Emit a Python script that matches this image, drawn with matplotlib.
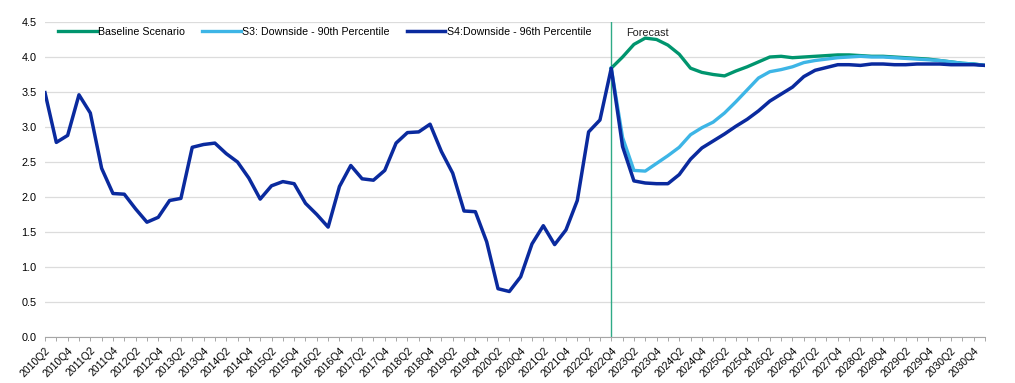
"""Scenario chart: history + forecast paths (matplotlib -> out.png)."""

import matplotlib
matplotlib.use("Agg")
import matplotlib.pyplot as plt
import pandas as pd

plt.rcParams["font.family"] = ["Liberation Sans", "DejaVu Sans"]

# quarters 2010Q2 .. 2031Q1
quarters = [f"{p.year}Q{p.quarter}" for p in pd.period_range("2010Q2", "2031Q1", freq="Q")]

# history 2010Q2 .. 2022Q4
history = [
    3.49, 2.78, 2.88, 3.46, 3.20, 2.41, 2.05, 2.04, 1.83, 1.64,
    1.71, 1.95, 1.98, 2.71, 2.75, 2.77, 2.62, 2.50, 2.27, 1.97,
    2.16, 2.22, 2.19, 1.91, 1.75, 1.57, 2.15, 2.45, 2.26, 2.24,
    2.38, 2.77, 2.92, 2.93, 3.04, 2.65, 2.34, 1.80, 1.79, 1.36,
    0.69, 0.65, 0.86, 1.33, 1.59, 1.32, 1.53, 1.95, 2.93, 3.10,
    3.84,
]

# forecasts 2022Q4 .. 2031Q1
baseline = [
    3.84, 4.00, 4.18, 4.27, 4.25, 4.17, 4.04, 3.84, 3.78, 3.75,
    3.73, 3.80, 3.86, 3.93, 4.00, 4.01, 3.99, 4.00, 4.01, 4.02,
    4.03, 4.03, 4.02, 4.01, 4.01, 4.00, 3.99, 3.98, 3.97, 3.95,
    3.93, 3.91, 3.90, 3.88,
]
s3_downside = [
    3.84, 2.85, 2.38, 2.37, 2.48, 2.59, 2.71, 2.89, 2.99, 3.07,
    3.20, 3.36, 3.53, 3.70, 3.79, 3.82, 3.86, 3.92, 3.95, 3.97,
    3.99, 4.00, 4.01, 4.00, 4.00, 3.99, 3.98, 3.97, 3.96, 3.95,
    3.93, 3.91, 3.90, 3.88,
]
s4_downside = [
    3.84, 2.72, 2.23, 2.20, 2.19, 2.19, 2.32, 2.54, 2.70, 2.80,
    2.90, 3.01, 3.11, 3.23, 3.37, 3.47, 3.57, 3.72, 3.81, 3.85,
    3.89, 3.89, 3.88, 3.90, 3.90, 3.89, 3.89, 3.90, 3.90, 3.90,
    3.89, 3.89, 3.89, 3.88,
]

GREEN = "#00956E"
LIGHT = "#3DB5E6"
NAVY = "#0A2A9E"

fig = plt.figure(figsize=(10.15, 3.83), dpi=100)
ax = fig.add_axes([45 / 1015, 1 - 337 / 383, 940 / 1015, 315 / 383])

n_hist = len(history)
x_fc = list(range(n_hist - 1, n_hist - 1 + len(baseline)))

ax.plot(x_fc, baseline, color=GREEN, linewidth=2.4, label="Baseline Scenario", zorder=3)
ax.plot(x_fc, s3_downside, color=LIGHT, linewidth=2.4, label="S3: Downside - 90th Percentile", zorder=4)
s4_full = history + s4_downside[1:]
ax.plot(range(len(s4_full)), s4_full, color=NAVY, linewidth=2.5,
        label="S4:Downside - 96th Percentile", zorder=5)

# forecast start marker
ax.axvline(n_hist - 1, color="#2FAA86", linewidth=1.0, zorder=2)
ax.text(n_hist - 1 + 1.35, 4.34, "Forecast", fontsize=7.8, va="center", ha="left", color="#222222")

ax.set_xlim(0, len(quarters) - 1)
ax.set_ylim(0, 4.5)
ax.set_yticks([i * 0.5 for i in range(10)])
ax.set_yticklabels([f"{i * 0.5:.1f}" for i in range(10)])
ax.grid(True, axis="y", color="#DCDCDC", linewidth=0.9, zorder=0)
ax.set_axisbelow(True)

ax.set_xticks(range(len(quarters)))
ax.set_xticklabels([q if i % 2 == 0 else "" for i, q in enumerate(quarters)],
                   rotation=45, ha="right", rotation_mode="anchor", fontsize=7.5)
ax.tick_params(axis="x", length=3, width=0.6, color="#999999", pad=3, direction="out")
ax.tick_params(axis="y", length=0, pad=6, labelsize=7.8)

for side in ["top", "right", "left"]:
    ax.spines[side].set_visible(False)
ax.spines["bottom"].set_color("#A6A6A6")
ax.spines["bottom"].set_linewidth(0.8)

ax.legend(loc="center left", bbox_to_anchor=(13 / 940, 0.968), ncol=3, frameon=False,
          fontsize=7.7, handlelength=3.6, handletextpad=0.15, columnspacing=1.6,
          borderpad=0, borderaxespad=0)

fig.savefig("out.png", dpi=100)
plt.close(fig)
